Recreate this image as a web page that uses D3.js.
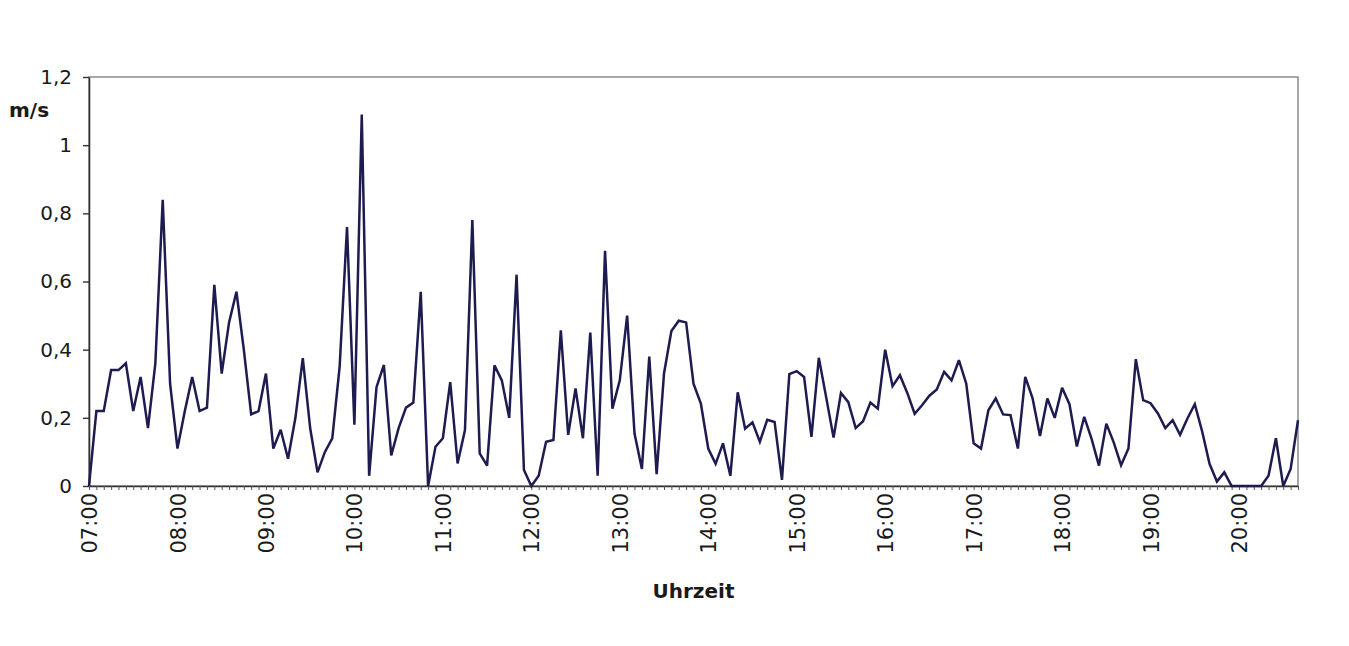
<!DOCTYPE html>
<html><head><meta charset="utf-8">
<script src="https://cdn.jsdelivr.net/npm/d3@7"></script>
<style>body{margin:0;background:#fff}</style>
</head><body><svg id="c" width="1349" height="646"></svg>
<script>
// ---- data ----
const startHour = 7;          // first reading 07:00
const stepMinutes = 5;        // one reading every 5 minutes
const speeds = [
 0,0.22,0.22,0.34,0.34,0.36,0.22,0.32,0.17,0.36,
 0.84,0.30,0.11,0.22,0.32,0.22,0.23,0.59,0.33,0.48,
 0.57,0.40,0.21,0.22,0.33,0.11,0.165,0.08,0.20,0.375,
 0.17,0.04,0.10,0.14,0.35,0.76,0.18,1.09,0.03,0.29,
 0.355,0.09,0.17,0.23,0.245,0.57,0.0,0.115,0.14,0.305,
 0.066,0.164,0.78,0.096,0.06,0.354,0.31,0.2,0.62,0.047,
 0.0,0.03,0.13,0.135,0.457,0.15,0.286,0.14,0.45,0.03,
 0.69,0.227,0.31,0.5,0.154,0.05,0.38,0.035,0.33,0.455,
 0.485,0.48,0.30,0.242,0.11,0.065,0.125,0.03,0.275,0.168,
 0.187,0.13,0.194,0.188,0.018,0.328,0.337,0.32,0.144,0.376,
 0.26,0.142,0.273,0.246,0.17,0.19,0.245,0.227,0.4,0.293,
 0.325,0.273,0.212,0.237,0.265,0.283,0.335,0.31,0.369,0.3,
 0.125,0.11,0.222,0.257,0.21,0.208,0.11,0.32,0.257,0.147,
 0.257,0.2,0.288,0.24,0.116,0.203,0.138,0.06,0.183,0.128,
 0.061,0.11,0.372,0.252,0.243,0.213,0.17,0.193,0.15,0.198,
 0.24,0.16,0.065,0.013,0.04,0,0,0,0,0,
 0.03,0.14,0,0.05,0.193
];
const hourLabels = ["07:00","08:00","09:00","10:00","11:00","12:00","13:00",
                    "14:00","15:00","16:00","17:00","18:00","19:00","20:00"];
const yTicks = [0,0.2,0.4,0.6,0.8,1,1.2];
const yTickLabels = ["0","0,2","0,4","0,6","0,8","1","1,2"];
const yTitle = "m/s";
const xTitle = "Uhrzeit";

const pad = n => String(n).padStart(2,"0");
const categories = speeds.map((_, i) => {
  const m = startHour*60 + i*stepMinutes;
  return pad(Math.floor(m/60)) + ":" + pad(m%60);
});

// ---- layout ----
const L = 89, R = 1298, T = 77, B = 486;
const svg = d3.select("#c");
const x = d3.scalePoint().domain(categories).range([L, R]);
const y = d3.scaleLinear().domain([0, 1.2]).range([B, T]);
const font = "'DejaVu Sans', Verdana, sans-serif";

// plot frame
svg.append("rect").attr("x", L).attr("y", T).attr("width", R - L).attr("height", B - T)
  .attr("fill", "none").attr("stroke", "#8a8a8a").attr("stroke-width", 1.5);

// y axis
const ya = svg.append("g").attr("transform", `translate(${L},0)`)
  .call(d3.axisLeft(y).tickValues(yTicks).tickFormat((d, i) => yTickLabels[i])
        .tickSize(6).tickSizeOuter(0).tickPadding(11));
ya.select(".domain").attr("stroke", "#333").attr("stroke-width", 1.6);
ya.selectAll(".tick line").attr("stroke", "#333").attr("stroke-width", 1.4);
ya.selectAll("text").attr("font-family", font).attr("font-size", 20).attr("fill", "#1a1a1a");

// x axis minor ticks (every reading)
const xa = svg.append("g").attr("transform", `translate(0,${B})`)
  .call(d3.axisBottom(x).tickValues(categories).tickFormat("").tickSize(4).tickSizeOuter(0));
xa.select(".domain").attr("stroke", "#333").attr("stroke-width", 1.6);
xa.selectAll(".tick line").attr("stroke", "#555").attr("stroke-width", 1);

// hour labels
const xl = svg.append("g").attr("transform", `translate(0,${B})`)
  .call(d3.axisBottom(x).tickValues(hourLabels).tickSize(0).tickSizeOuter(0));
xl.select(".domain").remove();
xl.selectAll("text").attr("font-family", font).attr("font-size", 21).attr("fill", "#1a1a1a")
  .attr("transform", "rotate(-90)").attr("x", -7).attr("y", 0).attr("dy", "0.36em")
  .style("text-anchor", "end");

// titles
svg.append("text").attr("x", 9).attr("y", 117).text(yTitle)
  .attr("font-family", font).attr("font-size", 20).attr("font-weight", "bold").attr("fill", "#1a1a1a");
svg.append("text").attr("x", (L + R) / 2).attr("y", 598).text(xTitle)
  .attr("text-anchor", "middle").attr("font-family", font).attr("font-size", 20)
  .attr("font-weight", "bold").attr("fill", "#1a1a1a");

// series line
const line = d3.line().x((d, i) => x(categories[i])).y(d => y(d));
svg.append("path").datum(speeds).attr("d", line)
  .attr("fill", "none").attr("stroke", "#1d1b4f").attr("stroke-width", 2.5)
  .attr("stroke-linejoin", "miter").attr("stroke-miterlimit", 3);
</script></body></html>
